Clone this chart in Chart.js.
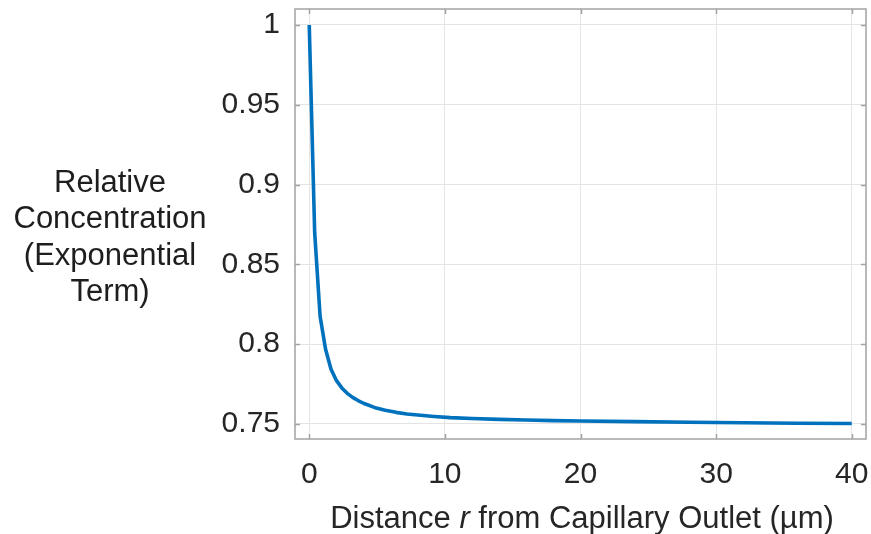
<!DOCTYPE html>
<html>
<head>
<meta charset="utf-8">
<script src="https://cdn.jsdelivr.net/npm/chart.js@4.4.1/dist/chart.umd.min.js"></script>
<style>
  html, body { margin: 0; padding: 0; background: #ffffff; }
  #wrap { width: 871px; height: 534px; position: relative; }
</style>
</head>
<body>
<div id="wrap"><canvas id="c" width="871" height="534"></canvas></div>
<script>
// ---- data ----
const distance = [0, 0.4, 0.8, 1.2, 1.6, 2.0, 2.4, 2.8, 3.2, 3.6, 4.0, 4.8, 5.6, 6.4, 7.2, 8, 9.2, 10.4, 12, 14, 16, 18, 20, 24, 28, 32, 36, 40];
const concentration = [1.0, 0.870, 0.8175, 0.797, 0.7845, 0.7773, 0.7726, 0.7692, 0.7667, 0.7647, 0.7630, 0.7604, 0.7586, 0.7573, 0.7563, 0.7556, 0.7547, 0.7540, 0.7534, 0.7529, 0.7525, 0.7521, 0.7519, 0.7515, 0.7511, 0.7508, 0.7505, 0.7503];
const xTicks = [0, 10, 20, 30, 40];
const yTicks = [0.75, 0.8, 0.85, 0.9, 0.95, 1];
const yTitleLines = ["Relative", "Concentration", "(Exponential", "Term)"];
const xTitleParts = [
  { text: "Distance ", italic: false },
  { text: "r", italic: true },
  { text: " from Capillary Outlet (\u00b5m)", italic: false }
];

const FONT = '"Liberation Sans", Arial, Helvetica, sans-serif';
const TEXT = '#262626';
const AXIS = '#a3a3a3';
const GRID = '#e4e4e4';

const points = distance.map((d, i) => ({ x: d, y: concentration[i] }));

const framePlugin = {
  id: 'frame',
  afterDatasetsDraw(chart) {
    const { ctx, chartArea: a, scales } = chart;
    ctx.save();
    ctx.strokeStyle = AXIS;
    ctx.lineWidth = 1.5;
    const tl = 5;
    ctx.beginPath();
    xTicks.forEach(v => {
      const px = Math.round(scales.x.getPixelForValue(v)) + 0.5;
      ctx.moveTo(px, a.bottom); ctx.lineTo(px, a.bottom - tl);
      ctx.moveTo(px, a.top); ctx.lineTo(px, a.top + tl);
    });
    yTicks.forEach(v => {
      const py = Math.round(scales.y.getPixelForValue(v)) + 0.5;
      ctx.moveTo(a.left, py); ctx.lineTo(a.left + tl, py);
      ctx.moveTo(a.right, py); ctx.lineTo(a.right - tl, py);
    });
    ctx.stroke();
    ctx.strokeRect(a.left, a.top, a.right - a.left, a.bottom - a.top);
    ctx.restore();
  },
  afterDraw(chart) {
    const { ctx, chartArea: a } = chart;
    ctx.save();
    ctx.fillStyle = '#1e1e1e';
    // y-axis title (horizontal, multi-line)
    ctx.font = '31px ' + FONT;
    ctx.textAlign = 'center';
    ctx.textBaseline = 'alphabetic';
    const cx = a.left - 185;
    const lh = 36.5;
    const firstBase = 191.5;
    yTitleLines.forEach((line, i) => {
      ctx.fillText(line, cx, firstBase + i * lh);
    });
    // x-axis title with italic r
    ctx.fillStyle = TEXT;
    ctx.textAlign = 'left';
    const fonts = xTitleParts.map(p => (p.italic ? 'italic ' : '') + '31px ' + FONT);
    let total = 0;
    const widths = xTitleParts.map((p, i) => { ctx.font = fonts[i]; const w = ctx.measureText(p.text).width; total += w; return w; });
    let x = (a.left + a.right) / 2 + 1.5 - total / 2;
    const base = 528;
    xTitleParts.forEach((p, i) => {
      ctx.font = fonts[i];
      ctx.fillText(p.text, x, base);
      x += widths[i];
    });
    ctx.restore();
  }
};

new Chart(document.getElementById('c'), {
  type: 'line',
  data: {
    datasets: [{
      data: points,
      borderColor: '#0072BD',
      borderWidth: 3.6,
      pointRadius: 0,
      tension: 0,
      fill: false,
      borderJoinStyle: 'round',
      borderCapStyle: 'butt'
    }]
  },
  options: {
    responsive: false,
    animation: false,
    events: [],
    layout: { padding: { top: 9, right: 5, left: 0, bottom: 0 } },
    plugins: { legend: { display: false }, tooltip: { enabled: false }, title: { display: false } },
    scales: {
      x: {
        type: 'linear',
        min: -1.05,
        max: 41.05,
        afterBuildTicks: s => { s.ticks = xTicks.map(v => ({ value: v })); },
        afterFit: s => { s.height = 95; s.paddingLeft = 0; s.paddingRight = 0; },
        grid: { color: GRID, lineWidth: 1, drawTicks: false },
        border: { display: false },
        ticks: {
          color: TEXT,
          font: { family: FONT, size: 30 },
          padding: 18,
          maxRotation: 0,
          autoSkip: false,
          callback: v => String(v)
        }
      },
      y: {
        type: 'linear',
        min: 0.7406,
        max: 1.0100,
        afterBuildTicks: s => { s.ticks = yTicks.map(v => ({ value: v })); },
        afterFit: s => { s.width = 295; s.paddingTop = 0; s.paddingBottom = 0; },
        grid: { color: GRID, lineWidth: 1, drawTicks: false },
        border: { display: false },
        ticks: {
          color: TEXT,
          font: { family: FONT, size: 30 },
          padding: 15,
          autoSkip: false,
          callback: v => String(+Number(v).toFixed(2))
        }
      }
    }
  },
  plugins: [framePlugin]
});
</script>
</body>
</html>
